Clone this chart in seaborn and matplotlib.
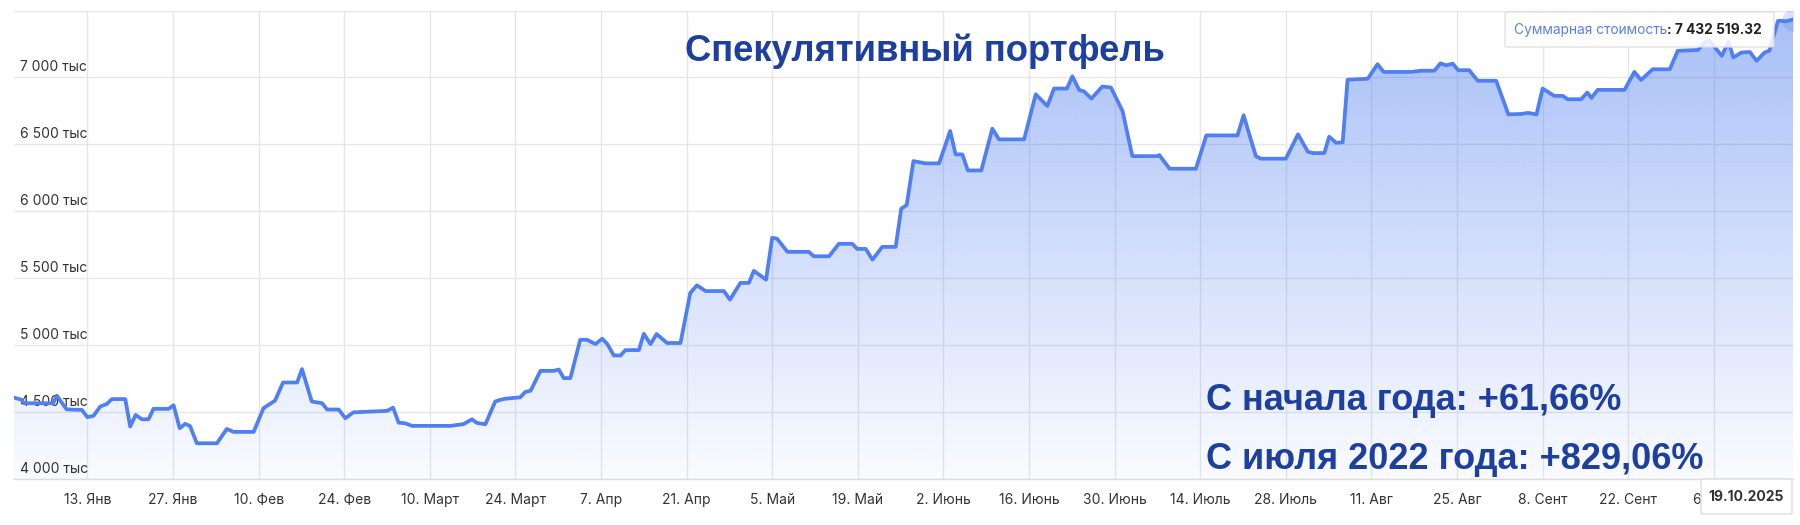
import numpy as np
import pandas as pd
import matplotlib
matplotlib.use("Agg")
import matplotlib.pyplot as plt
import matplotlib.transforms as mtrans
from matplotlib.patches import FancyBboxPatch
from matplotlib.colors import to_rgb
import seaborn as sns

# ---------------- data ----------------
start_date = "2025-01-01"
end_date = "2025-10-19"

day_offsets = [
    0.0, 1.3, 1.6, 6.4, 7.0, 8.6, 11.1, 12.0, 13.0, 14.1, 15.2, 16.0, 18.2, 19.0, 19.9,
    20.9, 22.0, 22.8, 25.3, 26.1, 27.1, 28.0, 28.8, 29.9, 33.2, 34.8, 35.9, 39.2, 40.8,
    42.7, 44.0, 46.3, 47.1, 48.7, 50.4, 51.2, 53.1, 54.2, 55.5, 61.0, 62.0, 62.9, 64.0,
    65.1, 71.4, 73.5, 74.9, 75.7, 77.1, 78.7, 79.5, 80.4, 82.8, 83.6, 84.5, 86.1, 88.3,
    89.1, 89.9, 91.0, 92.6, 93.7, 95.1, 96.2, 97.0, 98.1, 99.2, 100.0, 102.2, 103.0,
    104.1, 105.1, 106.8, 109.0, 110.6, 111.7, 113.1, 116.1, 117.1, 118.8, 120.2, 121.0,
    123.0, 124.0, 124.8, 126.5, 130.0, 130.8, 133.3, 134.9, 137.1, 137.9, 139.3, 140.4,
    142.0, 144.2, 145.1, 146.0, 147.1, 149.1, 151.3, 153.1, 154.0, 155.1, 156.0, 158.2,
    160.0, 161.1, 165.2, 167.1, 169.0, 170.1, 172.2, 173.1, 174.2, 175.0, 176.2, 178.0,
    179.4, 181.3, 182.9, 187.0, 187.3, 189.0, 193.3, 195.0, 200.1, 201.1, 203.1, 203.9,
    208.0, 210.0, 211.6, 212.4, 214.3, 215.1, 216.2, 217.3, 218.1, 221.4, 223.0, 224.0,
    228.5, 230.1, 232.3, 233.3, 234.2, 235.3, 236.2, 238.0, 239.4, 242.4, 244.4, 246.5,
    247.6, 249.0, 250.0, 251.9, 253.3, 254.1, 256.3, 257.3, 258.0, 259.0, 263.4, 265.0,
    266.1, 268.0, 270.8, 272.1, 275.4, 276.5, 277.3, 279.3, 280.4, 281.2, 282.5, 283.9,
    285.0, 286.3, 287.1, 288.5, 289.8, 291.0,
]
values_k = [
    4608, 4591, 4566, 4566, 4623, 4520, 4516, 4462, 4472, 4541, 4561, 4597, 4597, 4392, 4479,
    4446, 4446, 4524, 4524, 4551, 4379, 4412, 4395, 4267, 4267, 4374, 4352, 4352, 4529,
    4586, 4721, 4721, 4821, 4579, 4566, 4519, 4519, 4454, 4498, 4509, 4533, 4421, 4416,
    4397, 4397, 4410, 4446, 4419, 4409, 4579, 4591, 4600, 4610, 4650, 4660, 4808, 4808,
    4818, 4754, 4754, 5040, 5040, 5008, 5048, 5010, 4923, 4923, 4963, 4963, 5085,
    5008, 5083, 5016, 5016, 5390, 5447, 5404, 5404, 5340, 5465, 5465, 5555,
    5489, 5802, 5795, 5697, 5697, 5664, 5664, 5757, 5757, 5719, 5719, 5639,
    5734, 5734, 6019, 6047, 6375, 6358, 6358, 6600, 6425, 6425, 6305, 6305,
    6617, 6537, 6537, 6874, 6787, 6917, 6917, 7008, 6907, 6895, 6842, 6932,
    6925, 6749, 6412, 6412, 6420, 6318, 6318, 6567, 6567, 6717, 6412, 6393,
    6393, 6575, 6445, 6435, 6435, 6557, 6512, 6515, 6983, 6990, 7099, 7041,
    7041, 7050, 7050, 7106, 7090, 7103, 7054, 7054, 6975, 6975, 6724, 6727,
    6735, 6724, 6917, 6862, 6862, 6837, 6837, 6887, 6847, 6907, 6907, 7041,
    6981, 7061, 7061, 7199, 7205, 7261, 7275, 7161, 7266, 7149, 7186, 7190,
    7124, 7186, 7200, 7423, 7420, 7432.5,
]

tick_dates = [
    "2025-01-13", "2025-01-27", "2025-02-10", "2025-02-24", "2025-03-10", "2025-03-24",
    "2025-04-07", "2025-04-21", "2025-05-05", "2025-05-19", "2025-06-02", "2025-06-16",
    "2025-06-30", "2025-07-14", "2025-07-28", "2025-08-11", "2025-08-25", "2025-09-08",
    "2025-09-22", "2025-10-06",
]
tick_labels = [
    "13. Янв", "27. Янв", "10. Фев", "24. Фев", "10. Март", "24. Март", "7. Апр",
    "21. Апр", "5. Май", "19. Май", "2. Июнь", "16. Июнь", "30. Июнь", "14. Июль",
    "28. Июль", "11. Авг", "25. Авг", "8. Сент", "22. Сент", "6. Окт",
]
ytick_values = [4000, 4500, 5000, 5500, 6000, 6500, 7000, 7500]
ytick_labels = ["4 000 тыс", "4 500 тыс", "5 000 тыс", "5 500 тыс", "6 000 тыс",
                "6 500 тыс", "7 000 тыс", ""]

title_text = "Спекулятивный портфель"
ytd_text = "С начала года: +61,66%"
since_text = "С июля 2022 года: +829,06%"
tooltip_name = "Суммарная стоимость"
tooltip_value = ": 7 432 519.32"
date_label = "19.10.2025"

# ---------------- style ----------------
sns.set_theme(style="white")
plt.rcParams['font.family'] = ['Inter', 'DejaVu Sans']

LINE = "#4f7ff0"
GRID = "#e6e6e6"
DARK_BLUE = "#1d3f9f"
W, H = 1800, 525

fig = plt.figure(figsize=(W / 100, H / 100), dpi=100)
fig.patch.set_facecolor("white")
ax_left, ax_right, ax_top, ax_bottom = 14, 1793.3, 10.5, 479
ax = fig.add_axes([ax_left / W, 1 - ax_bottom / H, (ax_right - ax_left) / W,
                   (ax_bottom - ax_top) / H])
ax.set_facecolor("white")

x0 = pd.Timestamp(start_date)
x_end = (pd.Timestamp(end_date) - x0).days
tick_pos = [(pd.Timestamp(d) - x0).days for d in tick_dates]

df = pd.DataFrame({"day": day_offsets, "value": values_k})

ax.set_xlim(0, x_end)
ax.set_ylim(ytick_values[0], ytick_values[-1])

# gradient fill under line
poly = ax.fill_between(df["day"], df["value"], ytick_values[0], facecolor="none",
                       edgecolor="none")
r, g, b = to_rgb(LINE)
grad = np.zeros((256, 2, 4))
alpha = np.linspace(0.50, 0.03, 256)
grad[:, :, 0] = r
grad[:, :, 1] = g
grad[:, :, 2] = b
grad[:, :, 3] = alpha[:, None]
im = ax.imshow(grad, extent=[0, x_end, ytick_values[0], ytick_values[-1]],
               aspect="auto", origin="upper", zorder=1, interpolation="bilinear")
im.set_clip_path(poly.get_paths()[0], transform=ax.transData)

sns.lineplot(data=df, x="day", y="value", ax=ax, color=LINE, linewidth=2.7,
             zorder=3, solid_joinstyle="round", solid_capstyle="round")

# end hover halo
ax.scatter([day_offsets[-1]], [values_k[-1]], s=260, color=LINE, alpha=0.22,
           zorder=4, linewidths=0, clip_on=True)

# grid
ax.set_xticks(tick_pos)
ax.set_xticklabels(tick_labels)
ax.set_yticks(ytick_values)
ax.set_axisbelow(True)
ax.grid(True, axis="both", color=GRID, linewidth=1.0, zorder=0)
ax.tick_params(axis="x", length=5.8, width=1.0, color=GRID, pad=4.0,
               labelsize=10, labelcolor="#333333", direction="out")
ax.tick_params(axis="y", length=0, labelleft=False)
ax.set_xlabel("")
ax.set_ylabel("")
for s in ["left", "right", "top"]:
    ax.spines[s].set_visible(False)
ax.spines["bottom"].set_color("#dcdcdc")
ax.spines["bottom"].set_linewidth(1.0)

# y labels inside plot, above gridlines
ytrans = mtrans.offset_copy(mtrans.blended_transform_factory(ax.transAxes, ax.transData),
                            fig=fig, x=6, y=3, units="dots")
for v, lab in zip(ytick_values, ytick_labels):
    if lab:
        ax.text(0, v, lab, transform=ytrans, ha="left", va="bottom", fontsize=10,
                color="#333333", zorder=2)

# title and annotations
def fx(px):
    return px / W

def fy(py):
    return 1 - py / H

bold = dict(family=["Liberation Sans", "DejaVu Sans"], fontweight="bold", color=DARK_BLUE)
fig.text(fx(925), fy(61), title_text, ha="center", va="baseline", fontsize=26.3, **bold)
fig.text(fx(1206), fy(410), ytd_text, ha="left", va="baseline", fontsize=26, **bold)
fig.text(fx(1206), fy(469), since_text, ha="left", va="baseline", fontsize=26, **bold)

# tooltip
tip = FancyBboxPatch((fx(1505), fy(47)), fx(1774) - fx(1505), fy(12) - fy(47),
                     boxstyle="round,pad=0,rounding_size=0.002",
                     transform=fig.transFigure, facecolor="white", alpha=0.85,
                     edgecolor="#dddddd", linewidth=1.0, zorder=5)
fig.add_artist(tip)
t1 = fig.text(fx(1514), fy(30), tooltip_name, ha="left", va="center", fontsize=9.9,
              color="#5b80e8", zorder=6)
renderer = fig.canvas.get_renderer()
bb = t1.get_window_extent(renderer=renderer)
fig.text(bb.x1 / W, fy(30), tooltip_value, ha="left", va="center", fontsize=9.9,
         fontweight="bold", color="#222222", zorder=6)

# date label box at bottom right
dbox = FancyBboxPatch((fx(1701), fy(514)), fx(1792) - fx(1701), fy(479) - fy(514),
                      boxstyle="round,pad=0,rounding_size=0.002",
                      transform=fig.transFigure, facecolor="white",
                      edgecolor="#dddddd", linewidth=1.0, zorder=5)
fig.add_artist(dbox)
fig.text(fx(1746.5), fy(497), date_label, ha="center", va="center", fontsize=10,
         fontweight="bold", color="#333333", zorder=6)

fig.savefig("out.png", dpi=100, facecolor="white")
